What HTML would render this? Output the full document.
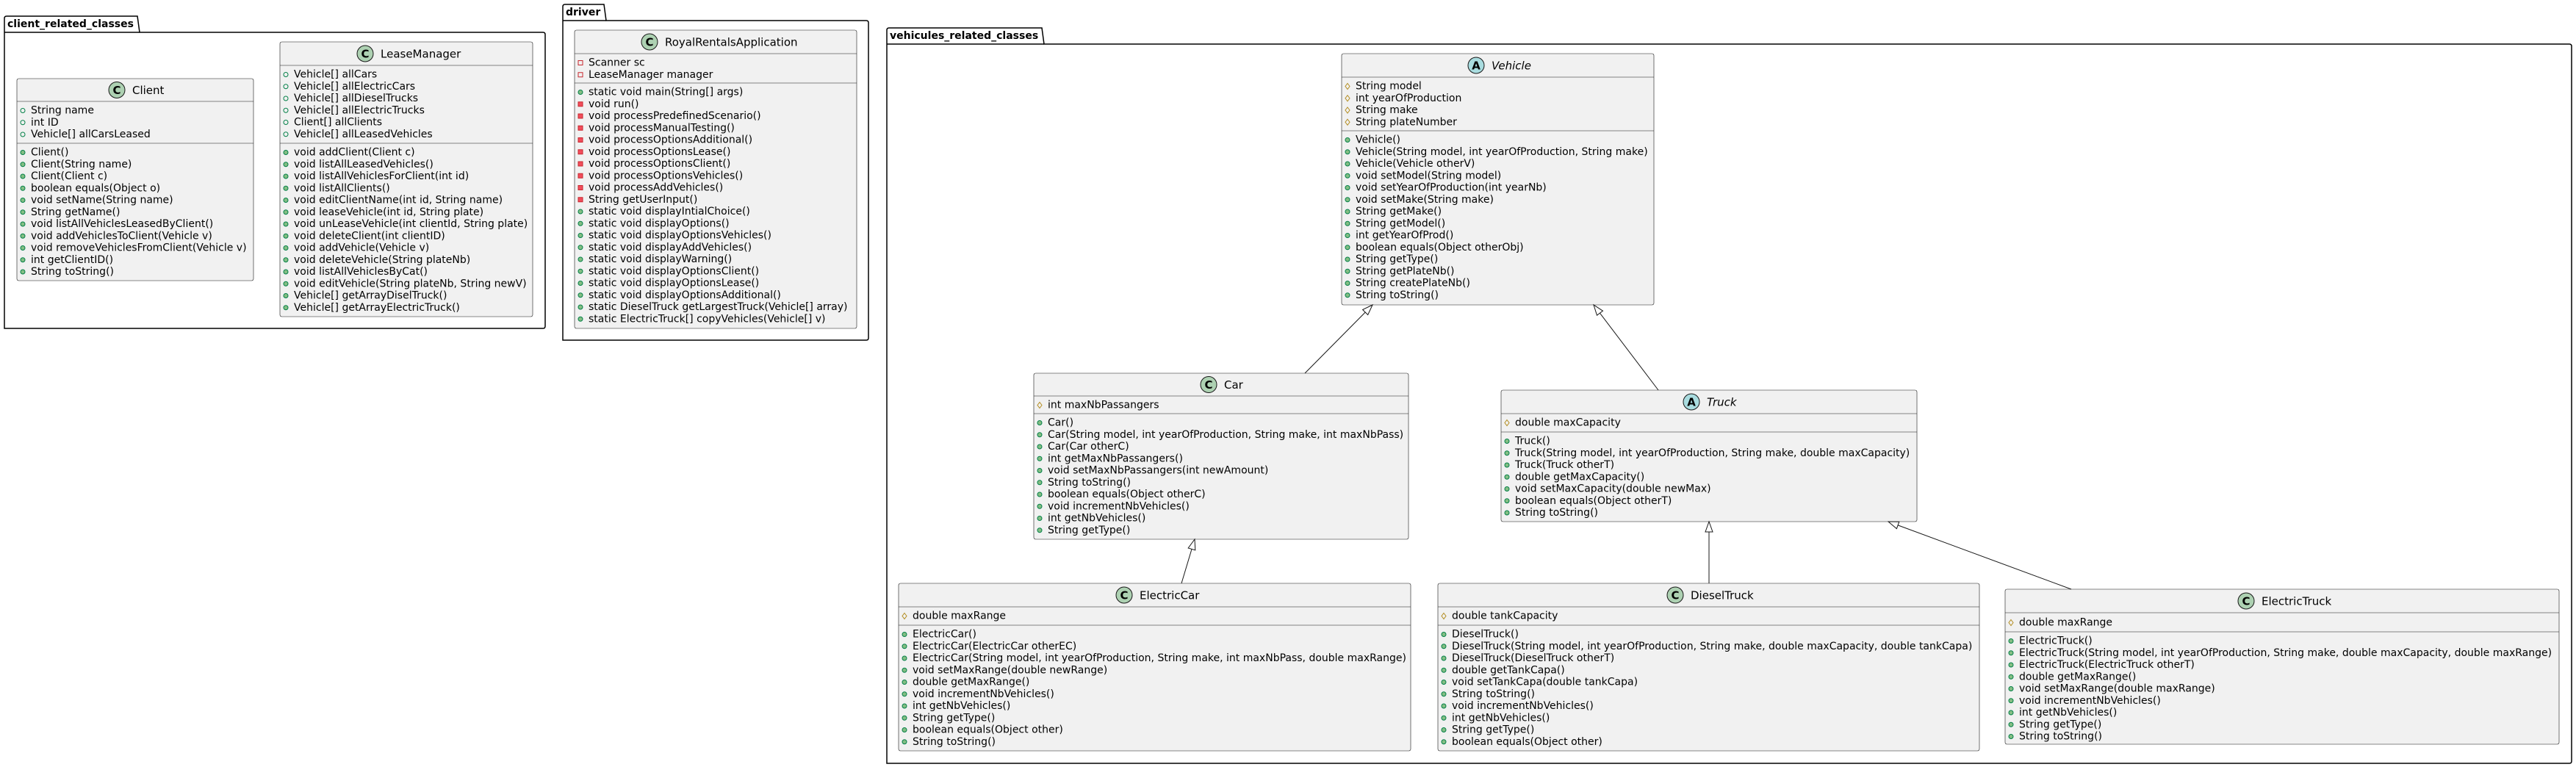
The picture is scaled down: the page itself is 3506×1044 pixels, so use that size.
<!DOCTYPE html>
<html><head><meta charset="utf-8"><style>
html,body{margin:0;padding:0;background:#fff;}
svg{display:block}
text{font-family:"DejaVu Sans","Liberation Sans",sans-serif;font-size:14px;fill:#000;dominant-baseline:central}
.n{font-size:15px}
.i{font-style:italic}
.p{font-weight:bold;font-size:14px}
.b{fill:#F1F1F1;stroke:#181818;stroke-width:0.6}
.s{stroke:#181818;stroke-width:0.6}
.k{fill:none;stroke:#000;stroke-width:1.5}
.e{stroke:#181818;stroke-width:1;fill:none}
.t{fill:#fff;stroke:#181818;stroke-width:1}
.cc{fill:#ADD1B2;stroke:#181818;stroke-width:1}
.ca{fill:#A9DCDF;stroke:#181818;stroke-width:1}
.cl{font-size:15px;font-weight:bold;text-anchor:middle}
</style></head><body>
<svg width="3506" height="1044" viewBox="0 0 3506 1044" xmlns="http://www.w3.org/2000/svg">
<defs>
<g id="pm"><circle r="3" fill="#84BE84" stroke="#038048" stroke-width="1"/></g>
<g id="pf"><circle r="3" fill="none" stroke="#038048" stroke-width="1"/></g>
<g id="rf"><polygon points="0,-4 3,0 0,4 -3,0" fill="none" stroke="#B38D22" stroke-width="1"/></g>
<g id="vf"><rect x="-3" y="-3" width="6" height="6" fill="none" stroke="#C82930" stroke-width="1"/></g>
<g id="vm"><rect x="-3" y="-3" width="6" height="6" fill="#F24D5C" stroke="#C82930" stroke-width="1"/></g>
</defs>

<!-- packages -->
<path class="k" d="M6,447 L6,25 Q6,22 9,22 L187,22 L190,44 L739,44 Q742,44 742,47 L742,444 Q742,447 739,447 Z"/>
<line class="k" x1="6" y1="44" x2="190" y2="44"/>
<text class="p" x="10" y="33">client_related_classes</text>

<path class="k" d="M766,463 L766,9 Q766,6 769,6 L822,6 L825,28 L1179,28 Q1182,28 1182,31 L1182,460 Q1182,463 1179,463 Z"/>
<line class="k" x1="766" y1="28" x2="825" y2="28"/>
<text class="p" x="770" y="17">driver</text>

<path class="k" d="M1207,1039 L1207,41 Q1207,38 1210,38 L1418,38 L1421,60 L3497,60 Q3500,60 3500,63 L3500,1036 Q3500,1039 3497,1039 Z"/>
<line class="k" x1="1207" y1="60" x2="1421" y2="60"/>
<text class="p" x="1211" y="49">vehicules_related_classes</text>

<!-- Client -->
<rect class="b" x="23" y="107" width="322" height="275" rx="2.5"/>
<line class="s" x1="23" y1="138" x2="345" y2="138"/><line class="s" x1="23" y1="195" x2="345" y2="195"/>
<circle class="cc" cx="159" cy="122.5" r="11"/><text class="cl" x="159" y="123">C</text>
<text class="n" x="180" y="123">Client</text>
<use href="#pf" x="31" y="150.5"/><text x="42" y="150.5">String name</text>
<use href="#pf" x="31" y="166.75"/><text x="42" y="166.75">int ID</text>
<use href="#pf" x="31" y="183"/><text x="42" y="183">Vehicle[] allCarsLeased</text>
<use href="#pm" x="31" y="207.5"/><text x="42" y="207.5">Client()</text>
<use href="#pm" x="31" y="223.75"/><text x="42" y="223.75">Client(String name)</text>
<use href="#pm" x="31" y="240"/><text x="42" y="240">Client(Client c)</text>
<use href="#pm" x="31" y="256.25"/><text x="42" y="256.25">boolean equals(Object o)</text>
<use href="#pm" x="31" y="272.5"/><text x="42" y="272.5">void setName(String name)</text>
<use href="#pm" x="31" y="288.75"/><text x="42" y="288.75">String getName()</text>
<use href="#pm" x="31" y="305"/><text x="42" y="305">void listAllVehiclesLeasedByClient()</text>
<use href="#pm" x="31" y="321.25"/><text x="42" y="321.25">void addVehiclesToClient(Vehicle v)</text>
<use href="#pm" x="31" y="337.5"/><text x="42" y="337.5">void removeVehiclesFromClient(Vehicle v)</text>
<use href="#pm" x="31" y="353.75"/><text x="42" y="353.75">int getClientID()</text>
<use href="#pm" x="31" y="370"/><text x="42" y="370">String toString()</text>

<!-- LeaseManager -->
<rect class="b" x="381" y="57" width="344" height="374" rx="2.5"/>
<line class="s" x1="381" y1="89" x2="725" y2="89"/><line class="s" x1="381" y1="195" x2="725" y2="195"/>
<circle class="cc" cx="497" cy="73" r="11"/><text class="cl" x="497" y="73.5">C</text>
<text class="n" x="518" y="73.5">LeaseManager</text>
<use href="#pf" x="389" y="101.5"/><text x="400" y="101.5">Vehicle[] allCars</text>
<use href="#pf" x="389" y="117.75"/><text x="400" y="117.75">Vehicle[] allElectricCars</text>
<use href="#pf" x="389" y="134"/><text x="400" y="134">Vehicle[] allDieselTrucks</text>
<use href="#pf" x="389" y="150.25"/><text x="400" y="150.25">Vehicle[] allElectricTrucks</text>
<use href="#pf" x="389" y="166.5"/><text x="400" y="166.5">Client[] allClients</text>
<use href="#pf" x="389" y="182.75"/><text x="400" y="182.75">Vehicle[] allLeasedVehicles</text>
<use href="#pm" x="389" y="207.5"/><text x="400" y="207.5">void addClient(Client c)</text>
<use href="#pm" x="389" y="223.75"/><text x="400" y="223.75">void listAllLeasedVehicles()</text>
<use href="#pm" x="389" y="240"/><text x="400" y="240">void listAllVehiclesForClient(int id)</text>
<use href="#pm" x="389" y="256.25"/><text x="400" y="256.25">void listAllClients()</text>
<use href="#pm" x="389" y="272.5"/><text x="400" y="272.5">void editClientName(int id, String name)</text>
<use href="#pm" x="389" y="288.75"/><text x="400" y="288.75">void leaseVehicle(int id, String plate)</text>
<use href="#pm" x="389" y="305"/><text x="400" y="305">void unLeaseVehicle(int clientId, String plate)</text>
<use href="#pm" x="389" y="321.25"/><text x="400" y="321.25">void deleteClient(int clientID)</text>
<use href="#pm" x="389" y="337.5"/><text x="400" y="337.5">void addVehicle(Vehicle v)</text>
<use href="#pm" x="389" y="353.75"/><text x="400" y="353.75">void deleteVehicle(String plateNb)</text>
<use href="#pm" x="389" y="370"/><text x="400" y="370">void listAllVehiclesByCat()</text>
<use href="#pm" x="389" y="386.25"/><text x="400" y="386.25">void editVehicle(String plateNb, String newV)</text>
<use href="#pm" x="389" y="402.5"/><text x="400" y="402.5">Vehicle[] getArrayDiselTruck()</text>
<use href="#pm" x="389" y="418.75"/><text x="400" y="418.75">Vehicle[] getArrayElectricTruck()</text>

<!-- RoyalRentalsApplication -->
<rect class="b" x="782" y="41" width="384" height="406" rx="2.5"/>
<line class="s" x1="782" y1="73" x2="1166" y2="73"/><line class="s" x1="782" y1="113" x2="1166" y2="113"/>
<circle class="cc" cx="884" cy="57" r="11"/><text class="cl" x="884" y="57.5">C</text>
<text class="n" x="905" y="57.5">RoyalRentalsApplication</text>
<use href="#vf" x="790" y="85.5"/><text x="801" y="85.5">Scanner sc</text>
<use href="#vf" x="790" y="101.75"/><text x="801" y="101.75">LeaseManager manager</text>
<use href="#pm" x="790" y="125.5"/><text x="801" y="125.5">static void main(String[] args)</text>
<use href="#vm" x="790" y="141.75"/><text x="801" y="141.75">void run()</text>
<use href="#vm" x="790" y="158"/><text x="801" y="158">void processPredefinedScenario()</text>
<use href="#vm" x="790" y="174.25"/><text x="801" y="174.25">void processManualTesting()</text>
<use href="#vm" x="790" y="190.5"/><text x="801" y="190.5">void processOptionsAdditional()</text>
<use href="#vm" x="790" y="206.75"/><text x="801" y="206.75">void processOptionsLease()</text>
<use href="#vm" x="790" y="223"/><text x="801" y="223">void processOptionsClient()</text>
<use href="#vm" x="790" y="239.25"/><text x="801" y="239.25">void processOptionsVehicles()</text>
<use href="#vm" x="790" y="255.5"/><text x="801" y="255.5">void processAddVehicles()</text>
<use href="#vm" x="790" y="271.75"/><text x="801" y="271.75">String getUserInput()</text>
<use href="#pm" x="790" y="288"/><text x="801" y="288">static void displayIntialChoice()</text>
<use href="#pm" x="790" y="304.25"/><text x="801" y="304.25">static void displayOptions()</text>
<use href="#pm" x="790" y="320.5"/><text x="801" y="320.5">static void displayOptionsVehicles()</text>
<use href="#pm" x="790" y="336.75"/><text x="801" y="336.75">static void displayAddVehicles()</text>
<use href="#pm" x="790" y="353"/><text x="801" y="353">static void displayWarning()</text>
<use href="#pm" x="790" y="369.25"/><text x="801" y="369.25">static void displayOptionsClient()</text>
<use href="#pm" x="790" y="385.5"/><text x="801" y="385.5">static void displayOptionsLease()</text>
<use href="#pm" x="790" y="401.75"/><text x="801" y="401.75">static void displayOptionsAdditional()</text>
<use href="#pm" x="790" y="418"/><text x="801" y="418">static DieselTruck getLargestTruck(Vehicle[] array)</text>
<use href="#pm" x="790" y="434.25"/><text x="801" y="434.25">static ElectricTruck[] copyVehicles(Vehicle[] v)</text>

<!-- Vehicle -->
<rect class="b" x="1826" y="73" width="425" height="342" rx="2.5"/>
<line class="s" x1="1826" y1="105" x2="2251" y2="105"/><line class="s" x1="1826" y1="178" x2="2251" y2="178"/>
<circle class="ca" cx="2009" cy="89" r="11"/><text class="cl" x="2009" y="89.5">A</text>
<text class="n i" x="2030" y="89.5">Vehicle</text>
<use href="#rf" x="1834" y="117.5"/><text x="1845" y="117.5">String model</text>
<use href="#rf" x="1834" y="133.75"/><text x="1845" y="133.75">int yearOfProduction</text>
<use href="#rf" x="1834" y="150"/><text x="1845" y="150">String make</text>
<use href="#rf" x="1834" y="166.25"/><text x="1845" y="166.25">String plateNumber</text>
<use href="#pm" x="1834" y="190.5"/><text x="1845" y="190.5">Vehicle()</text>
<use href="#pm" x="1834" y="206.75"/><text x="1845" y="206.75">Vehicle(String model, int yearOfProduction, String make)</text>
<use href="#pm" x="1834" y="223"/><text x="1845" y="223">Vehicle(Vehicle otherV)</text>
<use href="#pm" x="1834" y="239.25"/><text x="1845" y="239.25">void setModel(String model)</text>
<use href="#pm" x="1834" y="255.5"/><text x="1845" y="255.5">void setYearOfProduction(int yearNb)</text>
<use href="#pm" x="1834" y="271.75"/><text x="1845" y="271.75">void setMake(String make)</text>
<use href="#pm" x="1834" y="288"/><text x="1845" y="288">String getMake()</text>
<use href="#pm" x="1834" y="304.25"/><text x="1845" y="304.25">String getModel()</text>
<use href="#pm" x="1834" y="320.5"/><text x="1845" y="320.5">int getYearOfProd()</text>
<use href="#pm" x="1834" y="336.75"/><text x="1845" y="336.75">boolean equals(Object otherObj)</text>
<use href="#pm" x="1834" y="353"/><text x="1845" y="353">String getType()</text>
<use href="#pm" x="1834" y="369.25"/><text x="1845" y="369.25">String getPlateNb()</text>
<use href="#pm" x="1834" y="385.5"/><text x="1845" y="385.5">String createPlateNb()</text>
<use href="#pm" x="1834" y="401.75"/><text x="1845" y="401.75">String toString()</text>

<!-- Car -->
<rect class="b" x="1407" y="508" width="510" height="226" rx="2.5"/>
<line class="s" x1="1407" y1="539" x2="1917" y2="539"/><line class="s" x1="1407" y1="563" x2="1917" y2="563"/>
<circle class="cc" cx="1645" cy="523.5" r="11"/><text class="cl" x="1645" y="524">C</text>
<text class="n" x="1666" y="524">Car</text>
<use href="#rf" x="1415" y="551.5"/><text x="1426" y="551.5">int maxNbPassangers</text>
<use href="#pm" x="1415" y="575.5"/><text x="1426" y="575.5">Car()</text>
<use href="#pm" x="1415" y="591.75"/><text x="1426" y="591.75">Car(String model, int yearOfProduction, String make, int maxNbPass)</text>
<use href="#pm" x="1415" y="608"/><text x="1426" y="608">Car(Car otherC)</text>
<use href="#pm" x="1415" y="624.25"/><text x="1426" y="624.25">int getMaxNbPassangers()</text>
<use href="#pm" x="1415" y="640.5"/><text x="1426" y="640.5">void setMaxNbPassangers(int newAmount)</text>
<use href="#pm" x="1415" y="656.75"/><text x="1426" y="656.75">String toString()</text>
<use href="#pm" x="1415" y="673"/><text x="1426" y="673">boolean equals(Object otherC)</text>
<use href="#pm" x="1415" y="689.25"/><text x="1426" y="689.25">void incrementNbVehicles()</text>
<use href="#pm" x="1415" y="705.5"/><text x="1426" y="705.5">int getNbVehicles()</text>
<use href="#pm" x="1415" y="721.75"/><text x="1426" y="721.75">String getType()</text>

<!-- Truck -->
<rect class="b" x="2043" y="531" width="566" height="179" rx="2.5"/>
<line class="s" x1="2043" y1="563" x2="2609" y2="563"/><line class="s" x1="2043" y1="588" x2="2609" y2="588"/>
<circle class="ca" cx="2302" cy="547" r="11"/><text class="cl" x="2302" y="547.5">A</text>
<text class="n i" x="2323" y="547.5">Truck</text>
<use href="#rf" x="2051" y="575.5"/><text x="2062" y="575.5">double maxCapacity</text>
<use href="#pm" x="2051" y="600.5"/><text x="2062" y="600.5">Truck()</text>
<use href="#pm" x="2051" y="616.75"/><text x="2062" y="616.75">Truck(String model, int yearOfProduction, String make, double maxCapacity)</text>
<use href="#pm" x="2051" y="633"/><text x="2062" y="633">Truck(Truck otherT)</text>
<use href="#pm" x="2051" y="649.25"/><text x="2062" y="649.25">double getMaxCapacity()</text>
<use href="#pm" x="2051" y="665.5"/><text x="2062" y="665.5">void setMaxCapacity(double newMax)</text>
<use href="#pm" x="2051" y="681.75"/><text x="2062" y="681.75">boolean equals(Object otherT)</text>
<use href="#pm" x="2051" y="698"/><text x="2062" y="698">String toString()</text>

<!-- ElectricCar -->
<rect class="b" x="1223" y="794" width="697" height="228" rx="2.5"/>
<line class="s" x1="1223" y1="826" x2="1920" y2="826"/><line class="s" x1="1223" y1="851" x2="1920" y2="851"/>
<circle class="cc" cx="1530" cy="810" r="11"/><text class="cl" x="1530" y="810.5">C</text>
<text class="n" x="1551" y="810.5">ElectricCar</text>
<use href="#rf" x="1231" y="838.5"/><text x="1242" y="838.5">double maxRange</text>
<use href="#pm" x="1231" y="863.5"/><text x="1242" y="863.5">ElectricCar()</text>
<use href="#pm" x="1231" y="879.75"/><text x="1242" y="879.75">ElectricCar(ElectricCar otherEC)</text>
<use href="#pm" x="1231" y="896"/><text x="1242" y="896">ElectricCar(String model, int yearOfProduction, String make, int maxNbPass, double maxRange)</text>
<use href="#pm" x="1231" y="912.25"/><text x="1242" y="912.25">void setMaxRange(double newRange)</text>
<use href="#pm" x="1231" y="928.5"/><text x="1242" y="928.5">double getMaxRange()</text>
<use href="#pm" x="1231" y="944.75"/><text x="1242" y="944.75">void incrementNbVehicles()</text>
<use href="#pm" x="1231" y="961"/><text x="1242" y="961">int getNbVehicles()</text>
<use href="#pm" x="1231" y="977.25"/><text x="1242" y="977.25">String getType()</text>
<use href="#pm" x="1231" y="993.5"/><text x="1242" y="993.5">boolean equals(Object other)</text>
<use href="#pm" x="1231" y="1009.75"/><text x="1242" y="1009.75">String toString()</text>

<!-- DieselTruck -->
<rect class="b" x="1957" y="794" width="737" height="228" rx="2.5"/>
<line class="s" x1="1957" y1="826" x2="2694" y2="826"/><line class="s" x1="1957" y1="851" x2="2694" y2="851"/>
<circle class="cc" cx="2280" cy="810" r="11"/><text class="cl" x="2280" y="810.5">C</text>
<text class="n" x="2301" y="810.5">DieselTruck</text>
<use href="#rf" x="1965" y="838.5"/><text x="1976" y="838.5">double tankCapacity</text>
<use href="#pm" x="1965" y="863.5"/><text x="1976" y="863.5">DieselTruck()</text>
<use href="#pm" x="1965" y="879.75"/><text x="1976" y="879.75">DieselTruck(String model, int yearOfProduction, String make, double maxCapacity, double tankCapa)</text>
<use href="#pm" x="1965" y="896"/><text x="1976" y="896">DieselTruck(DieselTruck otherT)</text>
<use href="#pm" x="1965" y="912.25"/><text x="1976" y="912.25">double getTankCapa()</text>
<use href="#pm" x="1965" y="928.5"/><text x="1976" y="928.5">void setTankCapa(double tankCapa)</text>
<use href="#pm" x="1965" y="944.75"/><text x="1976" y="944.75">String toString()</text>
<use href="#pm" x="1965" y="961"/><text x="1976" y="961">void incrementNbVehicles()</text>
<use href="#pm" x="1965" y="977.25"/><text x="1976" y="977.25">int getNbVehicles()</text>
<use href="#pm" x="1965" y="993.5"/><text x="1976" y="993.5">String getType()</text>
<use href="#pm" x="1965" y="1009.75"/><text x="1976" y="1009.75">boolean equals(Object other)</text>

<!-- ElectricTruck -->
<rect class="b" x="2729" y="802" width="754" height="211" rx="2.5"/>
<line class="s" x1="2729" y1="834" x2="3483" y2="834"/><line class="s" x1="2729" y1="860" x2="3483" y2="860"/>
<circle class="cc" cx="3057" cy="818" r="11"/><text class="cl" x="3057" y="818.5">C</text>
<text class="n" x="3078" y="818.5">ElectricTruck</text>
<use href="#rf" x="2737" y="847.5"/><text x="2748" y="847.5">double maxRange</text>
<use href="#pm" x="2737" y="872.5"/><text x="2748" y="872.5">ElectricTruck()</text>
<use href="#pm" x="2737" y="888.75"/><text x="2748" y="888.75">ElectricTruck(String model, int yearOfProduction, String make, double maxCapacity, double maxRange)</text>
<use href="#pm" x="2737" y="905"/><text x="2748" y="905">ElectricTruck(ElectricTruck otherT)</text>
<use href="#pm" x="2737" y="921.25"/><text x="2748" y="921.25">double getMaxRange()</text>
<use href="#pm" x="2737" y="937.5"/><text x="2748" y="937.5">void setMaxRange(double maxRange)</text>
<use href="#pm" x="2737" y="953.75"/><text x="2748" y="953.75">void incrementNbVehicles()</text>
<use href="#pm" x="2737" y="970"/><text x="2748" y="970">int getNbVehicles()</text>
<use href="#pm" x="2737" y="986.25"/><text x="2748" y="986.25">String getType()</text>
<use href="#pm" x="2737" y="1002.5"/><text x="2748" y="1002.5">String toString()</text>

<!-- inheritance edges -->
<line class="e" x1="1858.2" y1="425" x2="1776" y2="508"/>
<polygon class="t" points="1868,415 1861.7,428.5 1854.6,421.5"/>
<line class="e" x1="2177.5" y1="426.2" x2="2257" y2="531"/>
<polygon class="t" points="2169,415 2173.5,429.2 2181.5,423.2"/>
<line class="e" x1="1622" y1="747.4" x2="1608" y2="794"/>
<polygon class="t" points="1626,734 1626.8,748.8 1617.2,746"/>
<line class="e" x1="2326" y1="724" x2="2326" y2="794"/>
<polygon class="t" points="2326,710 2321,724 2331,724"/>
<line class="e" x1="2583.1" y1="714.9" x2="2819" y2="802"/>
<polygon class="t" points="2570,710 2581.4,719.6 2584.8,710.2"/>
</svg>
</body></html>
